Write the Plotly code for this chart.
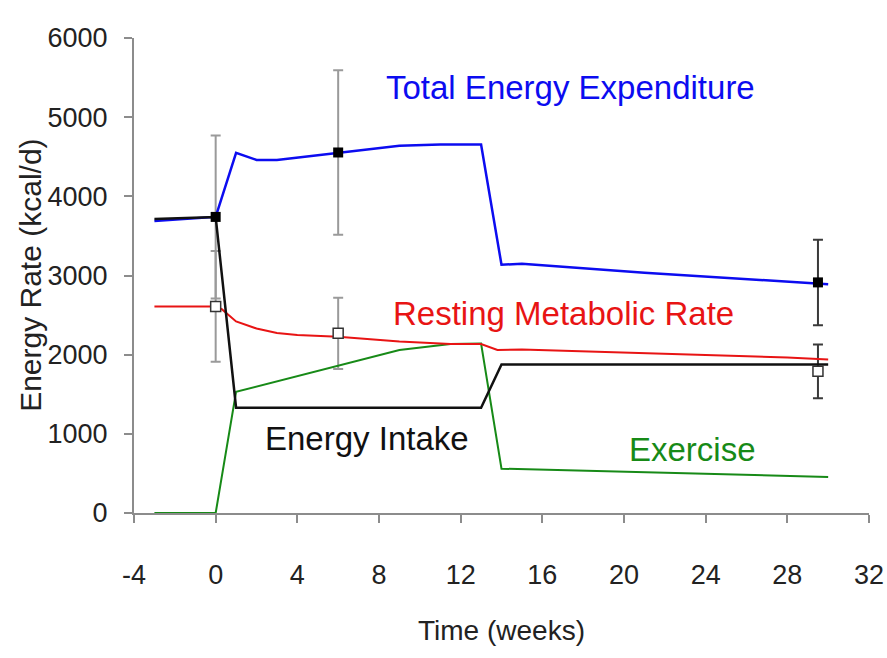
import plotly.graph_objects as go

# ---- data ----
weeks_tee = [-3, 0, 1, 2, 3, 4, 6, 9, 11, 13, 14, 15, 21, 28, 30]
tee_kcal = [3690, 3740, 4550, 4460, 4460, 4490, 4554, 4640, 4655, 4655, 3135, 3150, 3035, 2915, 2890]

weeks_rmr = [-3, 0, 0.3, 0.6, 1, 2, 3, 4, 6, 9, 11.5, 13, 13.8, 15, 21, 28, 30]
rmr_kcal = [2610, 2610, 2575, 2510, 2420, 2330, 2275, 2250, 2225, 2165, 2135, 2135, 2060, 2065, 2020, 1965, 1940]

weeks_intake = [-3, 0, 1, 13, 14, 30]
intake_kcal = [3715, 3740, 1330, 1330, 1875, 1875]

weeks_ex = [-3, 0, 1, 6, 9, 11.5, 13, 14, 21, 28, 30]
exercise_kcal = [0, 0, 1530, 1860, 2060, 2135, 2140, 560, 510, 465, 455]

meas_weeks = [0, 6, 29.5]
tee_meas = [3740, 4554, 2913]
tee_sd = [1030, 1040, 540]
rmr_meas = [2610, 2269, 1790]
rmr_sd = [700, 450, 340]

x_ticks = [-4, 0, 4, 8, 12, 16, 20, 24, 28, 32]
x_ticklabels = ["-4", "0", "4", "8", "12", "16", "20", "24", "28", "32"]
y_ticks = [0, 1000, 2000, 3000, 4000, 5000, 6000]

x_title = "Time (weeks)"
y_title = "Energy Rate (kcal/d)"

labels = ["Total Energy Expenditure", "Resting Metabolic Rate", "Energy Intake", "Exercise"]
label_x = [17.4, 17.05, 7.4, 23.35]
label_y = [5380, 2526, 947, 796]

BLUE = "#0c0cf0"
RED = "#e81414"
GREEN = "#178a17"
BLACK = "#111111"
FONT = "Liberation Sans, Arial, sans-serif"

fig = go.Figure()

# error bars (grey for first two visits, dark for final visit)
for xs, ys, es, col in [
    (meas_weeks[:2], tee_meas[:2], tee_sd[:2], "#9a9a9a"),
    (meas_weeks[:2], rmr_meas[:2], rmr_sd[:2], "#9a9a9a"),
    (meas_weeks[2:], tee_meas[2:], tee_sd[2:], "#3a3a3a"),
    (meas_weeks[2:], rmr_meas[2:], rmr_sd[2:], "#3a3a3a"),
]:
    fig.add_trace(go.Scatter(
        x=xs, y=ys, mode="markers",
        marker=dict(size=1, color="rgba(0,0,0,0)"),
        error_y=dict(type="data", array=es, visible=True, color=col, thickness=2, width=5),
        hoverinfo="skip", showlegend=False,
    ))

fig.add_trace(go.Scatter(x=weeks_ex, y=exercise_kcal, mode="lines",
                         line=dict(color=GREEN, width=2), name="Exercise"))
fig.add_trace(go.Scatter(x=weeks_rmr, y=rmr_kcal, mode="lines",
                         line=dict(color=RED, width=2), name="Resting Metabolic Rate"))
fig.add_trace(go.Scatter(x=weeks_tee, y=tee_kcal, mode="lines",
                         line=dict(color=BLUE, width=2.5), name="Total Energy Expenditure"))
fig.add_trace(go.Scatter(x=weeks_intake, y=intake_kcal, mode="lines",
                         line=dict(color=BLACK, width=2.5), name="Energy Intake"))

# measured points
fig.add_trace(go.Scatter(x=meas_weeks, y=rmr_meas, mode="markers",
                         marker=dict(symbol="square", size=10, color="white",
                                     line=dict(color="#333333", width=1.5)),
                         name="RMR measured"))
fig.add_trace(go.Scatter(x=meas_weeks, y=tee_meas, mode="markers",
                         marker=dict(symbol="square", size=10, color="black",
                                     line=dict(color="black", width=0)),
                         name="TEE measured"))

label_colors = [BLUE, RED, BLACK, GREEN]
for t, lx, ly, c in zip(labels, label_x, label_y, label_colors):
    fig.add_annotation(x=lx, y=ly, xref="x", yref="y", text=t, showarrow=False,
                       font=dict(family=FONT, size=33, color=c),
                       xanchor="center", yanchor="middle")

# y-axis title placed precisely
fig.add_annotation(x=-0.141, y=0.5, xref="paper", yref="paper", text=y_title,
                   showarrow=False, textangle=-90, xanchor="center", yanchor="middle",
                   font=dict(family=FONT, size=30, color="#222222"))

axis_common = dict(
    showline=True, linecolor="#8c8c8c", linewidth=2,
    ticks="outside", ticklen=8, tickwidth=1.5, tickcolor="#8c8c8c",
    showgrid=False, zeroline=False, automargin=False,
    tickfont=dict(family=FONT, size=27, color="#222222"),
)

fig.update_layout(
    width=887, height=658, autosize=False,
    margin=dict(l=134, r=18, t=38, b=145),
    paper_bgcolor="white", plot_bgcolor="white",
    showlegend=False,
    xaxis=dict(range=[-4, 32], tickvals=x_ticks, ticktext=x_ticklabels,
               ticklabelstandoff=29,
               title=dict(text=x_title, font=dict(family=FONT, size=28, color="#222222"),
                          standoff=31),
               **axis_common),
    yaxis=dict(range=[0, 6000], tickvals=y_ticks, ticklabelstandoff=11,
               **axis_common),
)

fig.write_html("out.html")
